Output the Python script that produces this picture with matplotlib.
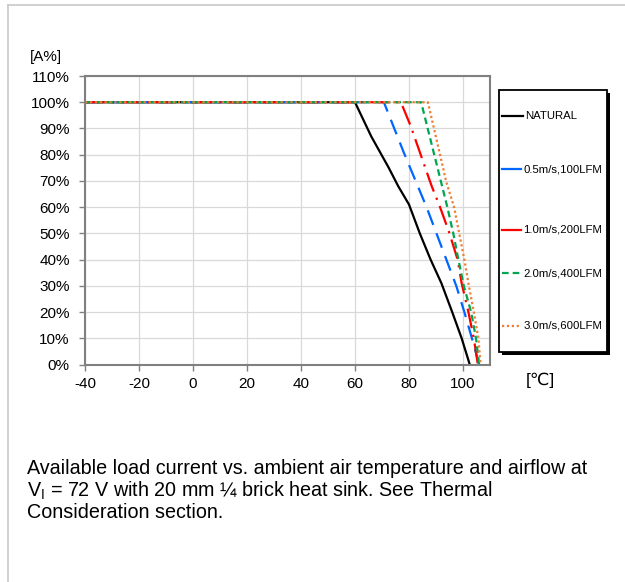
import matplotlib
matplotlib.use("Agg")
import matplotlib.pyplot as plt
from matplotlib.patches import Rectangle
from matplotlib.lines import Line2D

plt.rcParams['font.family'] = ['Liberation Sans', 'DejaVu Sans']
plt.rcParams['axes.unicode_minus'] = False

# derating curves: ambient temperature [C] vs available load current [%]
natural_t = [-40, 60, 66, 72.5, 76, 80, 84, 88, 92, 96, 99.5, 102.5]
natural_i = [100, 100, 87, 75, 68, 61, 50, 40, 31, 20, 10, 0]

lfm100_t = [-40, 70.7, 78, 86.5, 92, 97.5, 100.5, 103.3, 106]
lfm100_i = [100, 100, 81, 60, 45, 30, 20, 10, 0]

lfm200_t = [-40, 77, 80.6, 88.4, 91.5, 95, 98, 99.5, 102, 104, 105.5]
lfm200_i = [100, 100, 91, 68, 60, 50, 40, 31, 20, 10, 0]

lfm400_t = [-40, 84.5, 92.5, 94.2, 96.4, 98.3, 100.3, 103, 104.8, 106]
lfm400_i = [100, 100, 67, 60, 50, 40, 30, 20, 10, 0]

lfm600_t = [-40, 87, 91.5, 93.7, 96.7, 98.6, 100.5, 102, 104, 105.7, 106.5]
lfm600_i = [100, 100, 80, 70, 60, 50, 40, 31, 20, 10, 0]

series = [
    ("NATURAL", natural_t, natural_i, "black", "-", "-"),
    ("0.5m/s,100LFM", lfm100_t, lfm100_i, "#0066ff", (0, (7, 4)), "-"),
    ("1.0m/s,200LFM", lfm200_t, lfm200_i, "#ff0000", (0, (9, 3, 1, 3)), "-"),
    ("2.0m/s,400LFM", lfm400_t, lfm400_i, "#00a550", (0, (3, 1.8)), (0, (3, 1.8))),
    ("3.0m/s,600LFM", lfm600_t, lfm600_i, "#ed7d31", (0, (1, 1.2)), (0, (1, 1.2))),
]

x_ticks = [-40, -20, 0, 20, 40, 60, 80, 100]
y_ticks = [0, 10, 20, 30, 40, 50, 60, 70, 80, 90, 100, 110]

W, H = 625, 582
fig = plt.figure(figsize=(W / 100, H / 100), dpi=100)


def fx(px):
    return px / W


def fy(py):
    return 1 - py / H


ax = fig.add_axes([fx(85), fy(364.5), fx(490) - fx(85), fy(76) - fy(364.5)])

for name, t, i, c, ls, _ in series:
    ax.plot(t, i, color=c, linestyle=ls, linewidth=1.6, solid_capstyle='butt')

ax.set_xlim(-40, 110)
ax.set_ylim(0, 110)
ax.set_xticks(x_ticks)
ax.set_yticks(y_ticks)
ax.set_yticklabels([f"{v}%" for v in y_ticks])
ax.tick_params(labelsize=11, length=4, width=1, color="#808080")
ax.tick_params(axis="y", pad=7)
ax.tick_params(axis="x", pad=5)
ax.grid(True, color="#d9d9d9", linewidth=0.9)
ax.set_axisbelow(True)
for s in ax.spines.values():
    s.set_color("#808080")
    s.set_linewidth(1.5)

fig.text(fx(30), fy(57.5), "[A%]", fontsize=11, va="center", ha="left")
fig.text(fx(526), fy(380), "[℃]", fontsize=12.5, va="center", ha="left")

# legend box with drop shadow
lx0, lx1, ly0, ly1 = 499, 607, 90, 352
fig.patches.append(Rectangle((fx(lx0 + 3), fy(ly1 + 3)), fx(lx1) - fx(lx0), fy(ly0) - fy(ly1),
                             transform=fig.transFigure, facecolor="black", edgecolor="none", zorder=1))
fig.patches.append(Rectangle((fx(lx0), fy(ly1)), fx(lx1) - fx(lx0), fy(ly0) - fy(ly1),
                             transform=fig.transFigure, facecolor="white", edgecolor="black",
                             linewidth=1.3, zorder=2))
leg_y = [116, 169, 230, 273, 326]
for (name, t, i, c, ls, leg_ls), yy in zip(series, leg_y):
    x_end = 523 if name == "NATURAL" else 521
    fig.lines.append(Line2D([fx(502), fx(x_end)], [fy(yy), fy(yy)], transform=fig.transFigure,
                            color=c, linestyle=leg_ls, linewidth=1.6, zorder=3))
    fig.text(fx(x_end + 2.5), fy(yy), name, fontsize=8.2, va="center", ha="left", zorder=4)

caption = ("Available load current vs. ambient air temperature and airflow at\n"
           "V$_\\mathregular{I}$ = 72 V with 20 mm ¼ brick heat sink. See Thermal\n"
           "Consideration section.")
fig.text(fx(27), fy(459), caption, fontsize=14.2, va="top", ha="left", linespacing=1.1)

# page frame
fig.lines.append(Line2D([fx(8), fx(625)], [fy(4.5), fy(4.5)], transform=fig.transFigure,
                        color="#c8c8c8", linewidth=1.2))
fig.lines.append(Line2D([fx(8), fx(8)], [fy(4.5), fy(582)], transform=fig.transFigure,
                        color="#c8c8c8", linewidth=1.2))

fig.savefig("out.png", dpi=100)
